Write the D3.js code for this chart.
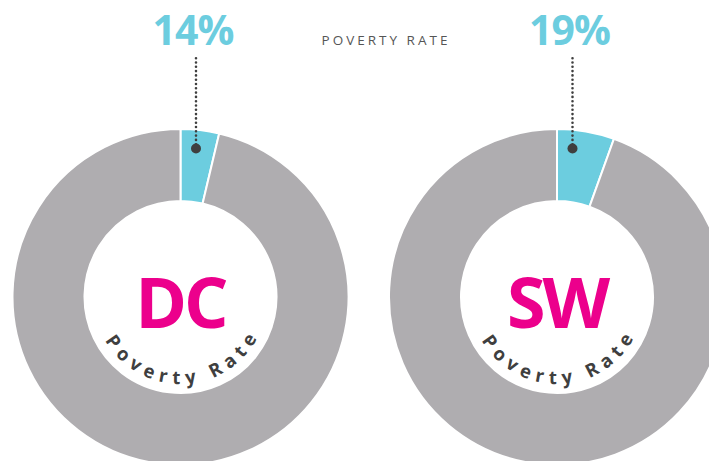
<!DOCTYPE html>
<html>
<head>
<meta charset="utf-8">
<script src="https://cdn.jsdelivr.net/npm/d3@7"></script>
<style>
  body { margin: 0; background: #fff; overflow: hidden; }
  svg { display: block; }
</style>
</head>
<body>
<div id="chart"></div>
<script>
// data
const regions = ["DC", "SW"];
const rateLabels = ["14%", "19%"];
// share of the ring that the blue slice covers (as drawn)
const sliceShare = [0.037, 0.055];
const title = "POVERTY RATE";
const ringLabel = "Poverty Rate";

const width = 709, height = 461;
const outerR = 168, innerR = 96;
const centers = [{x: 180.5, y: 297}, {x: 557, y: 297}];

const blue = "#6ccddf", grey = "#afadb0", pink = "#ec008c", dark = "#3f3f3f";

const svg = d3.select("#chart")
    .append("svg")
    .attr("width", width)
    .attr("height", height);

svg.append("text")
    .attr("x", 386)
    .attr("y", 45)
    .attr("text-anchor", "middle")
    .attr("font-family", "Open Sans")
    .attr("font-size", 13.5)
    .attr("letter-spacing", 3)
    .attr("fill", "#555")
    .text(title);

const pie = d3.pie().sort(null).value(d => d);
const arc = d3.arc().innerRadius(innerR).outerRadius(outerR);

regions.forEach((name, i) => {
    const c = centers[i];
    const g = svg.append("g")
        .attr("transform", "translate(" + c.x + "," + c.y + ")");

    g.selectAll("path.slice")
        .data(pie([sliceShare[i], 1 - sliceShare[i]]))
        .join("path")
        .attr("class", "slice")
        .attr("d", arc)
        .attr("fill", (d, j) => j === 0 ? blue : grey)
        .attr("stroke", "#fff")
        .attr("stroke-width", 2);

    // callout: dot inside the slice, dotted line up to the label
    const dotX = 15.5, dotY = -148.5;
    g.append("line")
        .attr("x1", dotX).attr("y1", dotY)
        .attr("x2", dotX).attr("y2", 57 - c.y)
        .attr("stroke", dark)
        .attr("stroke-width", 2.6)
        .attr("stroke-linecap", "round")
        .attr("stroke-dasharray", "0,4.3");
    g.append("circle")
        .attr("cx", dotX).attr("cy", dotY)
        .attr("r", 5)
        .attr("fill", dark);

    g.append("text")
        .attr("x", dotX - 3)
        .attr("y", 45 - c.y)
        .attr("text-anchor", "middle")
        .attr("font-family", "Open Sans")
        .attr("font-weight", "bold")
        .attr("font-size", 41)
        .attr("letter-spacing", -1)
        .attr("fill", blue)
        .text(rateLabels[i]);

    g.append("text")
        .attr("x", 0)
        .attr("y", 31)
        .attr("text-anchor", "middle")
        .attr("font-family", "Open Sans")
        .attr("font-weight", "bold")
        .attr("font-size", 70)
        .attr("letter-spacing", -3)
        .attr("fill", pink)
        .text(name);

    // curved label along the bottom of the hole
    const r = 87;
    const id = "curve" + i;
    g.append("path")
        .attr("id", id)
        .attr("d", "M" + (-r) + ",0 A" + r + "," + r + " 0 0,0 " + r + ",0")
        .attr("fill", "none");
    g.append("text")
        .attr("font-family", "Open Sans")
        .attr("font-weight", "bold")
        .attr("font-size", 18.5)
        .attr("letter-spacing", 6)
        .attr("fill", dark)
        .append("textPath")
        .attr("href", "#" + id)
        .attr("startOffset", "51.5%")
        .attr("text-anchor", "middle")
        .text(ringLabel);
});
</script>
</body>
</html>
